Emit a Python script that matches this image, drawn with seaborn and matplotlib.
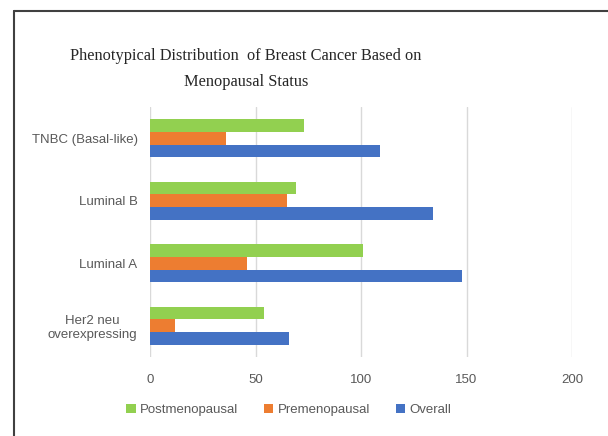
import matplotlib
matplotlib.use("Agg")
import matplotlib.pyplot as plt
from matplotlib import font_manager
import seaborn as sns
import pandas as pd

categories = ["TNBC (Basal-like)", "Luminal B", "Luminal A", "Her2 neu\noverexpressing"]
series = ["Postmenopausal", "Premenopausal", "Overall"]
postmenopausal = [73, 69, 101, 54]
premenopausal = [36, 65, 46, 12]
overall = [109, 134, 148, 66]
x_ticks = [0, 50, 100, 150, 200]
title = "Phenotypical Distribution  of Breast Cancer Based on\nMenopausal Status"

colors = ["#92D050", "#ED7D31", "#4472C4"]

sns.set_theme(style="white")
names = {f.name for f in font_manager.fontManager.ttflist}
label_font = "Liberation Sans Narrow" if "Liberation Sans Narrow" in names else "Liberation Sans"
plt.rcParams["font.family"] = [label_font, "DejaVu Sans"]

rows = []
for cat, a, b, c in zip(categories, postmenopausal, premenopausal, overall):
    rows.append({"Category": cat, "Series": series[0], "Value": a})
    rows.append({"Category": cat, "Series": series[1], "Value": b})
    rows.append({"Category": cat, "Series": series[2], "Value": c})
df = pd.DataFrame(rows)

fig = plt.figure(figsize=(6.08, 4.36), dpi=100)
ax = fig.add_axes([150 / 608, 1 - 357 / 436, (572 - 150) / 608, (357 - 107) / 436])

sns.barplot(data=df, y="Category", x="Value", hue="Series", order=categories,
            hue_order=series, palette=colors, orient="h", width=0.61,
            saturation=1, linewidth=0, ax=ax, legend=True)

ax.set_xlim(0, 200)
ax.set_xticks(x_ticks)
ax.set_xlabel("")
ax.set_ylabel("")
for s in ax.spines.values():
    s.set_visible(False)
ax.grid(axis="x", color="#D9D9D9", linewidth=1)
ax.grid(axis="y", visible=False)
ax.set_axisbelow(True)
ax.tick_params(axis="x", length=0, pad=12, labelsize=9.5, labelcolor="#595959")
ax.tick_params(axis="y", length=0, pad=9, labelsize=9.5, labelcolor="#595959")
for t in ax.get_yticklabels():
    t.set_multialignment("center")

handles, labels = ax.get_legend_handles_labels()
ax.get_legend().remove()
fig.legend(handles, labels, loc="center", bbox_to_anchor=(0.475, 1 - 410 / 436),
           ncol=3, frameon=False, fontsize=9.5, handlelength=0.7, handleheight=0.7,
           handletextpad=0.3, columnspacing=2.0, labelcolor="#595959")

fig.text(246 / 608, 1 - 69 / 436, title, ha="center", va="center",
         family=["Liberation Serif", "DejaVu Serif"], fontsize=11.8,
         color="#262626", linespacing=1.9)

# outer chart border (left and top)
fig.add_artist(plt.Line2D([13.5 / 608, 13.5 / 608], [0, 1 - 11 / 436],
                          transform=fig.transFigure, color="#404040", linewidth=1.5))
fig.add_artist(plt.Line2D([13.5 / 608, 1], [1 - 11 / 436, 1 - 11 / 436],
                          transform=fig.transFigure, color="#404040", linewidth=1.5))

fig.savefig("out.png", dpi=100)
